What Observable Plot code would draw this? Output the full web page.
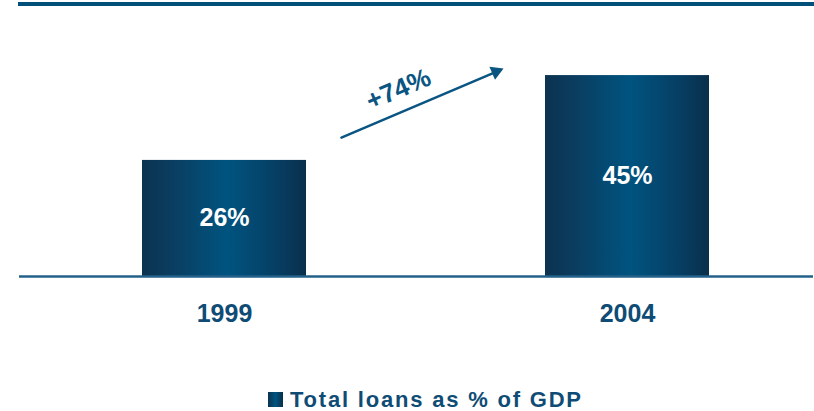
<!DOCTYPE html>
<html>
<head>
<meta charset="utf-8">
<script src="https://cdn.jsdelivr.net/npm/d3@7"></script>
<script src="https://cdn.jsdelivr.net/npm/@observablehq/plot@0.6"></script>
<style>
  html, body { margin: 0; padding: 0; background: #fff; overflow: hidden; }
  #wrap { position: relative; width: 814px; height: 411px; font-family: "Liberation Sans", Arial, sans-serif; }
  #topRule { position: absolute; left: 18px; top: 2px; width: 796px; height: 4px; background: #00507a; }
  #chart { position: absolute; left: 0; top: 0; }
  #legend { position: absolute; left: 268px; top: 387px; display: flex; align-items: center; height: 25px;
            font: bold 22px "Liberation Sans", Arial, sans-serif; color: #0f4c75; letter-spacing: 1.8px; line-height: 25px; white-space: nowrap; }
  #legend .sw { width: 15px; height: 15px; margin-right: 7px;
                background: linear-gradient(to right, #0b3350, #005480 50%, #0a2f4b); }
  #chart svg [aria-label="x-axis tick label"] text { font-weight: bold; }
</style>
</head>
<body>
<div id="wrap">
  <div id="chart"></div>
  <div id="topRule"></div>
  <div id="legend"><span class="sw"></span><span id="legendText"></span></div>
</div>
<script>
// ---- data ----
const years = ["1999", "2004"];
const loanShare = [26, 45];               // Total loans as % of GDP
const growthLabel = "+74%";
const legendLabel = "Total loans as % of GDP";
// growth arrow annotation (value space, running from 1999 band to 2004 band)
const arrowFrom = { year: "1999", value: 20.0 };
const arrowTo = { year: "2004", value: 58.3 };

const data = years.map((y, i) => ({ year: y, value: loanShare[i] }));
const arrowData = [{ x1: arrowFrom.year, y1: arrowFrom.value, x2: arrowTo.year, y2: arrowTo.value }];

const pxPerUnit = 4.465;
const baseY = 276;
const H = 370;

const plot = Plot.plot({
  width: 814,
  height: H,
  marginTop: 0,
  marginLeft: 19,
  marginRight: 1,
  marginBottom: H - baseY,
  style: { fontFamily: "'Liberation Sans', Arial, sans-serif", background: "transparent", overflow: "visible" },
  x: { domain: years, range: [141, 709], paddingInner: 0.594, paddingOuter: 0, align: 0.5, axis: null },
  y: { domain: [0, baseY / pxPerUnit], axis: null },
  marks: [
    Plot.barY(data, { x: "year", y: "value", fill: "url(#barGrad)" }),
    Plot.ruleY([0], { stroke: "#23618a", strokeWidth: 2.5 }),
    Plot.text(data, { x: "year", y: d => d.value / 2, text: d => d.value + "%", fill: "white",
                      fontSize: 25, fontWeight: "bold" }),
    Plot.axisX({ tickSize: 0, tickPadding: 28, fontSize: 25, fontWeight: "bold", fill: "#0f4c75" }),
    Plot.arrow(arrowData, { x1: "x1", y1: "y1", x2: "x2", y2: "y2", insetStart: 127, insetEnd: 146,
                            headLength: 0, stroke: "#0a5582", strokeWidth: 2.5 }),
    Plot.dot([arrowTo], { x: "year", y: d => 45.87, dx: -131.5, symbol: "triangle", r: 5.3,
                          rotate: 67, fill: "#0a5582", stroke: "none" }),
    Plot.text([arrowFrom], { x: "year", y: d => 41.9, dx: 174, text: () => growthLabel, rotate: -23,
                             fontSize: 26, fontWeight: "bold", fill: "#0a5582" })
  ]
});

const svg = d3.select(plot);
const defs = svg.insert("defs", ":first-child");
const g = defs.append("linearGradient").attr("id", "barGrad").attr("x1", "0").attr("x2", "1").attr("y1", "0").attr("y2", "0");
[[0, "#0b3350"], [0.15, "#0b3b5d"], [0.52, "#005480"], [0.85, "#073c60"], [1, "#0a2f4b"]]
  .forEach(([o, c]) => g.append("stop").attr("offset", o).attr("stop-color", c));

document.getElementById("chart").appendChild(plot);
document.getElementById("legendText").textContent = legendLabel;
</script>
</body>
</html>
